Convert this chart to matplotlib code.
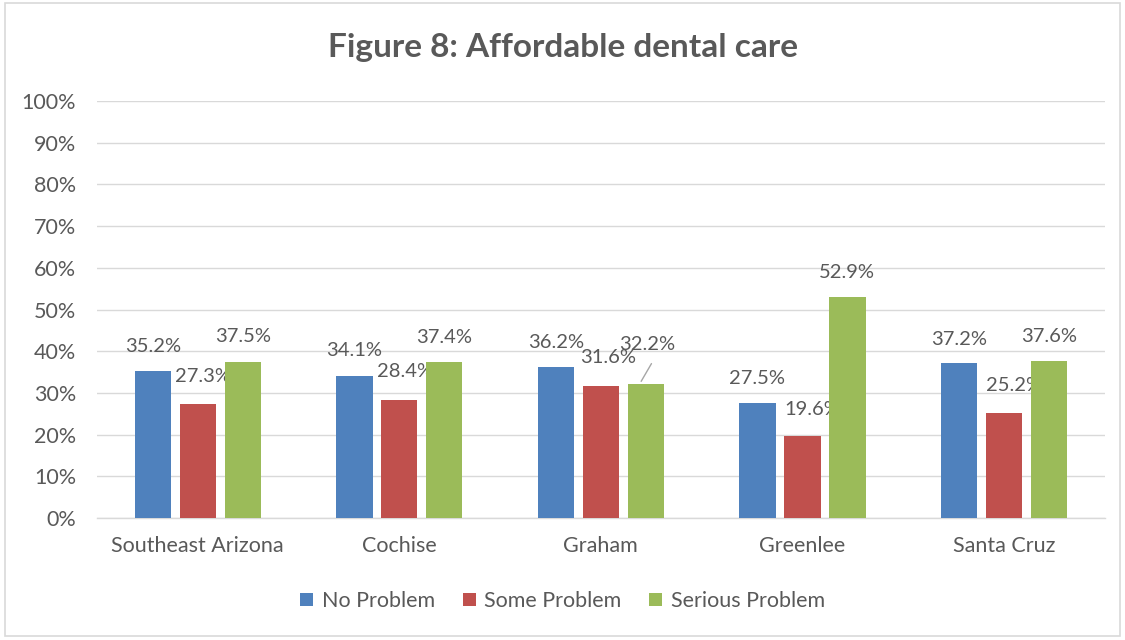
import numpy as np
import matplotlib.pyplot as plt
from matplotlib.patches import Rectangle

plt.rcParams['font.family'] = ['Lato', 'DejaVu Sans']

regions = ['Southeast Arizona', 'Cochise', 'Graham', 'Greenlee', 'Santa Cruz']
no_problem = [35.2, 34.1, 36.2, 27.5, 37.2]
some_problem = [27.3, 28.4, 31.6, 19.6, 25.2]
serious_problem = [37.5, 37.4, 32.2, 52.9, 37.6]
series_names = ['No Problem', 'Some Problem', 'Serious Problem']
colors = ['#4F81BD', '#C0504D', '#9BBB59']

# label offsets in points (dx, dy) from each bar top
label_offsets = [
    [(0, 18), (0, 18), (0, 18), (0, 18), (0, 17)],
    [(4, 20), (4, 20), (5, 21), (7, 19), (7, 20)],
    [(0, 18), (0, 18), (1, 28), (0, 18), (0, 18)],
]

text_color = '#595959'
grid_color = '#D9D9D9'

fig = plt.figure(figsize=(11.25, 6.4), dpi=100)
fig.patches.append(Rectangle((0.0045, 0.006), 0.991, 0.99, transform=fig.transFigure,
                             fill=False, edgecolor='#D9D9D9', linewidth=1.2))
ax = fig.add_axes([0.0862, 0.1906, 0.8958, 0.6516])

x = np.arange(len(regions))
width = 0.18
step = 0.223
all_series = [no_problem, some_problem, serious_problem]
for i, vals in enumerate(all_series):
    pos = x + (i - 1) * step
    ax.bar(pos, vals, width, color=colors[i], label=series_names[i], zorder=3)
    for j, v in enumerate(vals):
        dx, dy = label_offsets[i][j]
        ax.annotate('%.1f%%' % v, (pos[j], v), xytext=(dx, dy), textcoords='offset points',
                    ha='center', va='center', fontsize=14.5, color=text_color)

# leader line for the Graham serious-problem label
ax.annotate('', (x[2] + step - 0.03, serious_problem[2]), xytext=(x[2] + step - 0.03 + 0.065, serious_problem[2] + 5.4),
            arrowprops=dict(arrowstyle='-', color='#A6A6A6', lw=1))

ax.set_xlim(-0.5, len(regions) - 0.5)
ax.set_ylim(0, 100)
ax.set_yticks(np.arange(0, 101, 10))
ax.set_yticklabels(['%d%%' % t for t in range(0, 101, 10)])
ax.set_xticks(x)
ax.set_xticklabels(regions)
ax.tick_params(axis='both', length=0, labelsize=15.5, colors=text_color)
ax.tick_params(axis='y', pad=15)
ax.tick_params(axis='x', pad=13)
ax.grid(axis='y', color=grid_color, linewidth=1, zorder=0)
for side in ['top', 'right', 'left']:
    ax.spines[side].set_visible(False)
ax.spines['bottom'].set_color(grid_color)
ax.spines['bottom'].set_linewidth(1)

fig.text(0.5, 0.926, 'Figure 8: Affordable dental care', ha='center', va='center',
         fontsize=24, fontweight='bold', color=text_color)

fig.legend(loc='center', bbox_to_anchor=(0.5, 0.061), ncol=3, frameon=False,
           fontsize=15.5, handlelength=0.6, handleheight=0.6, handletextpad=0.4,
           columnspacing=1.3, labelcolor=text_color)

fig.savefig('out.png', dpi=100)
